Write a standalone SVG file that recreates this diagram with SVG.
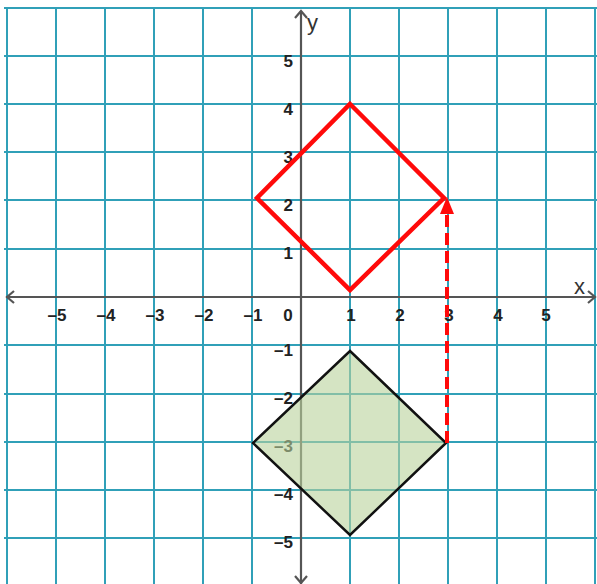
<svg xmlns="http://www.w3.org/2000/svg" width="597" height="584" viewBox="0 0 597 584">
<style>
.grid line{stroke:#30a0b8;stroke-width:2}
.axis{stroke:#555;stroke-width:2.2;fill:none}
.lbl{font-family:"Liberation Sans",Arial,sans-serif;font-weight:bold;font-size:17px;fill:#222}
.ax{font-family:"Liberation Sans",Arial,sans-serif;font-size:22px;fill:#333}
</style>
<rect width="597" height="584" fill="#fff"/>
<g id="grid" class="grid">
<line x1="7" y1="7" x2="7" y2="584"/>
<line x1="56" y1="7" x2="56" y2="584"/>
<line x1="105" y1="7" x2="105" y2="584"/>
<line x1="154" y1="7" x2="154" y2="584"/>
<line x1="203" y1="7" x2="203" y2="584"/>
<line x1="252" y1="7" x2="252" y2="584"/>
<line x1="350" y1="7" x2="350" y2="584"/>
<line x1="399" y1="7" x2="399" y2="584"/>
<line x1="448" y1="7" x2="448" y2="584"/>
<line x1="497" y1="7" x2="497" y2="584"/>
<line x1="546" y1="7" x2="546" y2="584"/>
<line x1="595" y1="7" x2="595" y2="584"/>
<line x1="4" y1="8" x2="597" y2="8"/>
<line x1="4" y1="56" x2="597" y2="56"/>
<line x1="4" y1="104" x2="597" y2="104"/>
<line x1="4" y1="152" x2="597" y2="152"/>
<line x1="4" y1="200" x2="597" y2="200"/>
<line x1="4" y1="249" x2="597" y2="249"/>
<line x1="4" y1="345" x2="597" y2="345"/>
<line x1="4" y1="394" x2="597" y2="394"/>
<line x1="4" y1="442" x2="597" y2="442"/>
<line x1="4" y1="490" x2="597" y2="490"/>
<line x1="4" y1="538" x2="597" y2="538"/>
</g>
<g id="axes">
<line class="axis" x1="6" y1="297" x2="594" y2="297"/>
<polyline class="axis" points="14,291 7,297 14,303"/>
<polyline class="axis" points="588,291 595,297 588,303"/>
<line class="axis" x1="301" y1="11" x2="301" y2="584"/>
<polyline class="axis" points="295,18 301,11 307,18"/>
<polyline class="axis" points="295,576 301,583 307,576"/>
<text class="ax" x="307" y="30">y</text>
<text class="ax" x="574" y="294">x</text>
</g>
<g id="xlabels" class="lbl" text-anchor="middle">
<text x="57" y="321">–5</text>
<text x="106" y="321">–4</text>
<text x="155" y="321">–3</text>
<text x="204" y="321">–2</text>
<text x="253" y="321">–1</text>
<text x="288" y="321">0</text>
<text x="351" y="321">1</text>
<text x="400" y="321">2</text>
<text x="449" y="321">3</text>
<text x="498" y="321">4</text>
<text x="546" y="321">5</text>
</g>
<g id="ylabels" class="lbl" text-anchor="end">
<text x="293" y="67">5</text>
<text x="293" y="115">4</text>
<text x="293" y="163">3</text>
<text x="293" y="211">2</text>
<text x="293" y="259">1</text>
<text x="293" y="356">–1</text>
<text x="293" y="404">–2</text>
<text x="293" y="452">–3</text>
<text x="293" y="500">–4</text>
<text x="293" y="548">–5</text>
</g>
<g id="green-square">
<polygon points="350,351 446,443 350,535 253,443" fill="#b9d29b" fill-opacity="0.6" stroke="#111" stroke-width="2.5" stroke-linejoin="miter"/>
</g>
<g id="red-square">
<polygon points="350,104 444,198 350,290 257,198" fill="none" stroke="#ff0a0a" stroke-width="4.5"/>
</g>
<g id="connectors">
<line x1="447" y1="443" x2="447" y2="212" stroke="#ff0a0a" stroke-width="4" stroke-dasharray="12,6"/>
<polygon points="447,197 440,214 454,214" fill="#ff0a0a"/>
</g>
</svg>
